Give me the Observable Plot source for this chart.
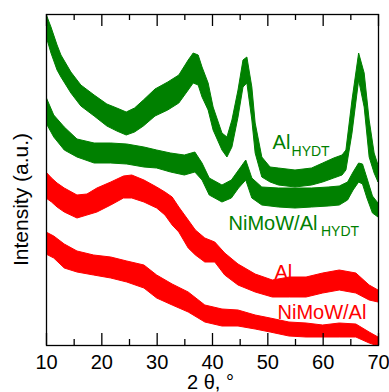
<!DOCTYPE html>
<html><head><meta charset="utf-8">
<script src="https://cdn.jsdelivr.net/npm/d3@7"></script>
<script src="https://cdn.jsdelivr.net/npm/@observablehq/plot@0.6"></script>
<style>body{margin:0;background:#fff} svg{display:block}</style>
</head><body><div id="chart"></div>
<script>
// 2θ positions and noise-band envelope (lower / upper intensity, a.u.)
const x_AlHYDT  = [10,10.9,12,12.7,14.5,16.3,18.7,21,22.8,24.5,26,27.6,29.7,32,34,35.7,36.6,37.5,38.2,39.3,40.2,41.8,42.7,43.6,44.7,45.6,46.3,47.2,47.8,49,50.5,52,55,58,60,62,63.5,64.2,65.3,66.5,67.5,68.4,69.3,70];
const lo_AlHYDT = [309,292,275,268,252,239,229,219,214,210,213,219,229,235,242,255,262,260,248,235,215,195,188,198,228,258,262,225,192,168,163,160,158,160,163,167,170,175,212,265,238,188,172,163];
const hi_AlHYDT = [331,318,300,290,273,260,250,241,237,233,237,245,256,263,270,285,292,290,278,262,238,212,208,225,255,285,288,258,222,188,178,177,175,177,182,187,190,195,245,292,272,225,192,180];

const x_NiAlHYDT  = [10,11.4,13.3,15.6,18.7,21.7,24.6,27.7,30,32.5,35,36.9,38.2,39.5,41.8,43.5,44.8,46.1,47.2,49,52,55,58,61,63,64.5,65.5,66.5,67.2,68,69,70];
const lo_NiAlHYDT = [222,208,195,188,182,182,181,178,177,173,170,173,165,150,143,147,157,165,147,140,138,137,138,139,140,145,155,163,161,147,132,128];
const hi_NiAlHYDT = [248,230,218,206,202,202,201,198,195,192,190,193,182,167,160,165,175,185,167,158,157,157,157,158,159,163,173,182,181,167,149,142];

const x_Al  = [10,11,12,13.3,15.6,17.4,19.2,21.7,24,25.5,27.7,30,31.5,32.8,34,35.7,37,38.7,40.5,42.3,44.7,47.8,50.9,54,57,60,63,66,68.4,70];
const lo_Al = [147,143,138,133,127,130,133,140,147,147,143,137,130,120,113,97,90,83,83,70,60,53,48,48,48,52,55,52,45,43];
const hi_Al = [173,167,162,157,150,151,157,163,169,170,165,158,153,148,138,125,115,107,103,92,81,71,65,68,68,72,75,72,60,55];

const x_NiAl  = [10,11.4,13.3,15.6,18.6,21.7,24.6,27.7,30,32.8,35.7,38.7,41.8,44.7,47.8,50.5,53.9,57,60,63,66,68.4,70];
const lo_NiAl = [91,87,77,73,70,67,63,57,47,40,33,23,19,19,16,13,9,8,8,8,8,2,-1];
const hi_NiAl = [113,109,101,94,90,88,84,80,70,61,53,40,36,35,30,27,23,22,20,22,21,13,8];

const majorTicks = [10,20,30,40,50,60,70];
const minorTicks = [15,25,35,45,55,65];

const seriesNames  = ["AlHYDT","NiMoW/AlHYDT","Al","NiMoW/Al"];
const seriesColors = ["#008000","#008000","#ff0000","#ff0000"];

// annotation labels: main text, subscript, colour, anchor in data units (2θ, intensity)
const labelMain = ["Al","NiMoW/Al","Al","NiMoW/Al"];
const labelSub  = ["HYDT","HYDT","",""];
const labelX    = [50.85,42.9,51.2,51.75];
const labelY    = [197,116,67,27];
const subX      = [54.28,59.6,null,null];
const subY      = [190,110,null,null];

const xs = [x_AlHYDT,x_NiAlHYDT,x_Al,x_NiAl];
const los = [lo_AlHYDT,lo_NiAlHYDT,lo_Al,lo_NiAl];
const his = [hi_AlHYDT,hi_NiAlHYDT,hi_Al,hi_NiAl];

const bandMarks = seriesNames.map((name,k) => {
  const rows = xs[k].map((x,i) => ({x, lo: los[k][i], hi: his[k][i]}));
  return Plot.areaY(rows, {x:"x", y1:"lo", y2:"hi", fill: seriesColors[k], stroke: seriesColors[k], strokeWidth: 1, clip: true});
});

const mainRows = labelMain.map((t,i)=>({t, x: labelX[i], y: labelY[i], c: seriesColors[i]}));
const subRows  = labelSub.map((t,i)=>({t, x: subX[i], y: subY[i], c: seriesColors[i]})).filter(d=>d.t);

const yMax = 331;           // top of the intensity scale
const majorLen = 12, minorLen = 6;   // inward tick lengths (y units = px here)
const chart = Plot.plot({
  width: 389, height: 392,
  marginLeft: 46, marginRight: 11, marginTop: 14, marginBottom: 47,
  style: {fontFamily: "'Liberation Sans', Arial, sans-serif", fontSize: "20px", color: "#000", background: "#fff"},
  x: {domain: [10,70], label: null},
  y: {domain: [0,yMax], axis: null, label: null},
  marks: [
    ...bandMarks,
    Plot.text(mainRows, {x:"x", y:"y", text:"t", fill: d=>d.c, textAnchor:"start", lineAnchor:"bottom", fontSize: 20}),
    Plot.text(subRows, {x:"x", y:"y", text:"t", fill: d=>d.c, textAnchor:"start", lineAnchor:"bottom", fontSize: 14}),
    Plot.ruleX(majorTicks, {x: d=>d, y1: 0, y2: majorLen, stroke:"#000", strokeWidth:1.3}),
    Plot.ruleX(minorTicks, {x: d=>d, y1: 0, y2: minorLen, stroke:"#000", strokeWidth:1.3}),
    Plot.ruleX(majorTicks, {x: d=>d, y1: yMax-majorLen, y2: yMax, stroke:"#000", strokeWidth:1.3}),
    Plot.ruleX(minorTicks, {x: d=>d, y1: yMax-minorLen, y2: yMax, stroke:"#000", strokeWidth:1.3}),
    Plot.frame({stroke:"#000", strokeWidth: 1.3}),
    Plot.axisX(majorTicks, {anchor:"bottom", tickSize:0, tickPadding:9, fontSize:20, tickFormat: d=>String(d)}),
    Plot.text(["Intensity (a.u.)"], {frameAnchor:"left", dx:-25, dy:19.5, rotate:-90, fontSize:21, textAnchor:"middle", lineAnchor:"middle", fill:"#000"}),
    Plot.text(["2 θ, °"], {frameAnchor:"bottom", dx:-2, dy:43, fontSize:20, textAnchor:"middle", lineAnchor:"bottom", fill:"#000"})
  ]
});
document.getElementById("chart").appendChild(chart);
</script>
</body></html>
